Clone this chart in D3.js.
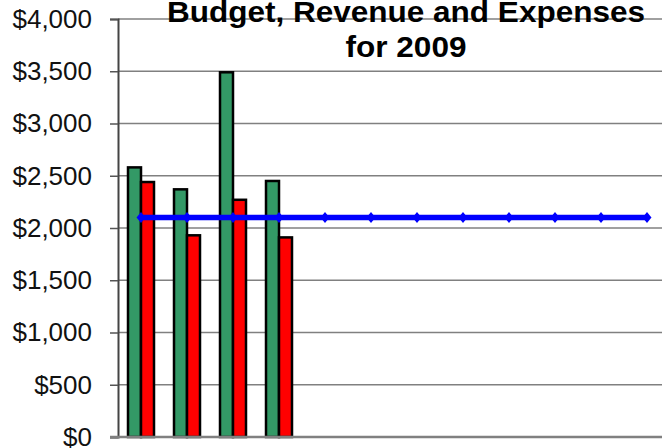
<!DOCTYPE html>
<html>
<head>
<meta charset="utf-8">
<script src="https://cdn.jsdelivr.net/npm/d3@7"></script>
<style>
  body { margin: 0; background: #fff; }
  svg { display: block; font-family: Arial, "Liberation Sans", sans-serif; }
</style>
</head>
<body>
<div id="chart"></div>
<script>
const months = ['Jan', 'Feb', 'Mar', 'Apr', 'May', 'Jun', 'Jul', 'Aug', 'Sep', 'Oct', 'Nov', 'Dec'];
const revenue = [2580, 2370, 3490, 2450, null, null, null, null, null, null, null, null];
const expenses = [2440, 1930, 2270, 1910, null, null, null, null, null, null, null, null];
const budget = [2100, 2100, 2100, 2100, 2100, 2100, 2100, 2100, 2100, 2100, 2100, 2100];
const yTicks = [0, 500, 1000, 1500, 2000, 2500, 3000, 3500, 4000];
const titleLines = ['Budget, Revenue and Expenses', 'for 2009'];

const width = 662;
const height = 448;
const margin = { top: 19, left: 118, bottom: 11 };
const plotRight = 670; // plot runs past the right edge of the picture

const svg = d3.select('#chart')
  .append('svg')
  .attr('width', width)
  .attr('height', height);

// Scales
const y = d3.scaleLinear()
  .domain([0, 4000])
  .range([height - margin.bottom, margin.top]);

const pad = 20 / 46;
const x0 = d3.scaleBand()
  .domain(months)
  .range([margin.left, plotRight])
  .paddingInner(pad)
  .paddingOuter(pad / 2);

const x1 = d3.scaleBand()
  .domain(['revenue', 'expenses'])
  .range([0, x0.bandwidth()]);

// Gridlines
svg.append('g')
  .selectAll('line')
  .data(yTicks.filter((d) => d > 0))
  .enter()
  .append('line')
  .attr('x1', margin.left)
  .attr('x2', width)
  .attr('y1', (d) => y(d))
  .attr('y2', (d) => y(d))
  .attr('stroke', '#808080')
  .attr('stroke-width', 1.5);

// Y axis
const yAxis = d3.axisLeft(y)
  .tickValues(yTicks)
  .tickFormat(d3.format('$,'))
  .tickSize(8)
  .tickPadding(18);

const gy = svg.append('g')
  .attr('transform', `translate(${margin.left},0)`)
  .call(yAxis);
gy.select('.domain').attr('stroke', '#444').attr('stroke-width', 2);
gy.selectAll('.tick line').attr('stroke', '#555').attr('stroke-width', 1.5);
gy.selectAll('.tick text')
  .attr('font-size', 26)
  .attr('fill', '#111')
  .attr('font-family', 'Arial, "Liberation Sans", sans-serif');

// Bars
const barData = [];
months.forEach((m, i) => {
  if (revenue[i] != null) barData.push({ month: m, key: 'revenue', value: revenue[i] });
  if (expenses[i] != null) barData.push({ month: m, key: 'expenses', value: expenses[i] });
});
const barColor = { revenue: '#339966', expenses: '#ff0000' };

svg.append('g')
  .selectAll('rect')
  .data(barData)
  .enter()
  .append('rect')
  .attr('x', (d) => x0(d.month) + x1(d.key))
  .attr('width', x1.bandwidth())
  .attr('y', (d) => y(d.value))
  .attr('height', (d) => y(0) - y(d.value))
  .attr('fill', (d) => barColor[d.key])
  .attr('stroke', '#000')
  .attr('stroke-width', 2.5);

// X axis line
svg.append('line')
  .attr('x1', margin.left - 8)
  .attr('x2', width)
  .attr('y1', y(0))
  .attr('y2', y(0))
  .attr('stroke', '#808080')
  .attr('stroke-width', 2.5);

// Budget line
const budgetData = months.map((m, i) => ({ month: m, value: budget[i] }));
const cx = (d) => x0(d.month) + x0.bandwidth() / 2;

svg.append('path')
  .datum(budgetData)
  .attr('fill', 'none')
  .attr('stroke', '#0000ff')
  .attr('stroke-width', 5.5)
  .attr('d', d3.line().x(cx).y((d) => y(d.value)));

// diamond marker, a bit taller than wide
const diamond = {
  draw(ctx) {
    ctx.moveTo(0, -5.5);
    ctx.lineTo(4.5, 0);
    ctx.lineTo(0, 5.5);
    ctx.lineTo(-4.5, 0);
    ctx.closePath();
  }
};

svg.append('g')
  .selectAll('path')
  .data(budgetData)
  .enter()
  .append('path')
  .attr('d', d3.symbol(diamond))
  .attr('transform', (d) => `translate(${cx(d)},${y(d.value)})`)
  .attr('fill', '#0000ff');

// Title
svg.append('g')
  .selectAll('text')
  .data(titleLines)
  .enter()
  .append('text')
  .attr('x', 406)
  .attr('y', (d, i) => 22 + i * 35)
  .attr('text-anchor', 'middle')
  .attr('font-size', 29)
  .attr('font-weight', 'bold')
  .attr('fill', '#000')
  .attr('textLength', (d, i) => (i === 0 ? 478 : 121))
  .attr('lengthAdjust', 'spacingAndGlyphs')
  .text((d) => d);
</script>
</body>
</html>
